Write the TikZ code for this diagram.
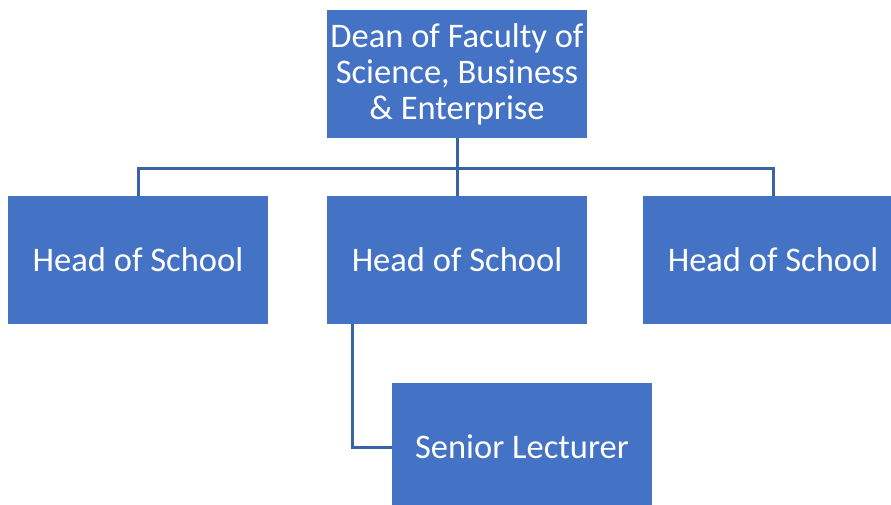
\documentclass[tikz,border=0pt]{standalone}
\usepackage{fontspec}
\setmainfont{Carlito}
\usetikzlibrary{calc, positioning}
\definecolor{boxblue}{HTML}{4472C4}
\definecolor{lineblue}{HTML}{3A62A7}

\begin{document}
\begin{tikzpicture}[x=1pt, y=-1pt,
   post/.style = {fill=boxblue, text=white, minimum width=260pt, minimum height=128pt,
                  inner sep=0pt, align=center, font=\fontsize{34.5}{36}\selectfont},
   link/.style = {draw=lineblue, line width=3pt}]
   \useasboundingbox (0,0) rectangle (891,505);

   \node[post] (dean) at (457,74)  {Dean of Faculty of\\Science, Business\\\& Enterprise};
   \node[post] (hos1) at (138,260) {Head of School};
   \node[post] (hos2) at (457,260) {Head of School};
   \node[post] (hos3) at (773,260) {Head of School};
   \node[post] (sl)   at (522,447) {Senior Lecturer};

   \coordinate (bus) at (457,169);
   %
   \draw[link] (dean.south) -- (hos2.north);
   \draw[link] (hos1.north) -- (hos1.north |- bus) -- (hos3.north |- bus) -- (hos3.north);
   %
   \draw[link] ($(hos2.south west)+(26,0)$) |- (sl.west);
\end{tikzpicture}
\end{document}
